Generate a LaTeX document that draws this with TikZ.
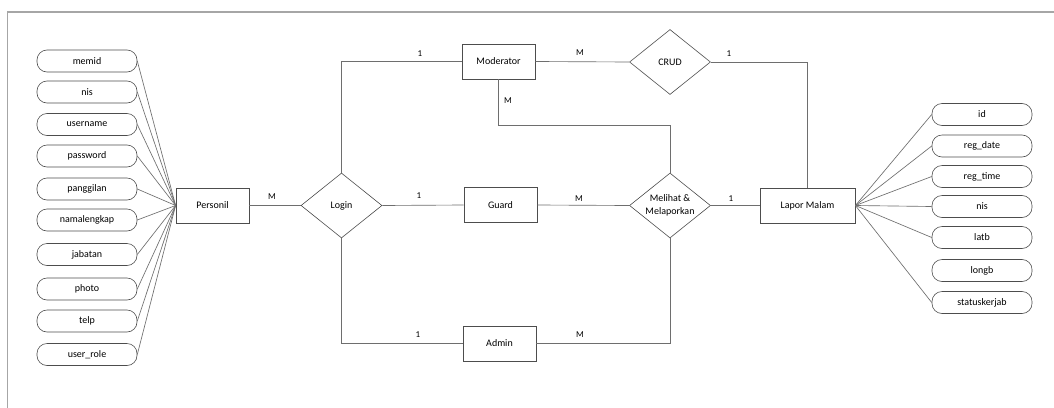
\documentclass[tikz,border=0pt]{standalone}
\usepackage{fontspec}
\setmainfont{Carlito}
\usetikzlibrary{shapes.geometric}
\definecolor{edgegray}{HTML}{4D4D4D}
\definecolor{linkgray}{HTML}{6E6E6E}
\definecolor{framegray}{HTML}{A6A6A6}
\begin{document}
\begin{tikzpicture}[x=1pt,y=-1pt,
  font=\fontsize{10}{12}\selectfont,
  entity/.style={draw=edgegray,line width=0.8pt,minimum width=73pt,minimum height=35pt,inner sep=0pt},
  relation/.style={diamond,draw=edgegray,line width=0.6pt,minimum width=81pt,minimum height=65pt,inner sep=0pt,aspect=1.25,align=center},
  attr/.style={draw=edgegray,line width=0.6pt,rounded corners=10pt,minimum width=100pt,minimum height=22pt,inner sep=0pt},
  link/.style={draw=linkgray,line width=0.65pt},
  card/.style={font=\fontsize{9}{10}\selectfont,inner sep=0pt}]
\useasboundingbox (0,0) rectangle (1054,407);
\fill[white] (0,0) rectangle (1054,407);
% outer frame (runs off the right and bottom)
\draw[framegray,line width=1.4pt] (7.5,420) -- (7.5,12) -- (1060,12);

% entities
\node[entity] (personil) at (212.5,205.5) {Personil};
\node[entity] (moderator) at (498.5,61.5) {Moderator};
\node[entity] (guard) at (500.5,205) {Guard};
\node[entity] (admin) at (499.5,343.5) {Admin};
\node[entity,minimum width=95pt] (lapor) at (807.5,205.5) {Lapor Malam};

% relationships
\node[relation] (login) at (341.5,205.5) {Login};
\node[relation] (crud) at (670,62) {CRUD};
\node[relation,font=\fontsize{10}{13}\selectfont] (melihat) at (670,205.5) {Melihat \&\\Melaporkan};

% attributes of Personil
\foreach \n/\t/\y in {p1/memid/61, p2/nis/92, p3/username/124.5, p4/password/156,
  p5/panggilan/189, p6/namalengkap/220, p7/jabatan/254.5, p8/photo/289,
  p9/telp/321, p10/user\_role/354.5}{
  \node[attr] (\n) at (87,\y) {\t};
  \draw[link] (\n.east) -- (personil.west);
}

% attributes of Lapor Malam
\foreach \n/\t/\y in {l1/id/114.5, l2/reg\_date/146, l3/reg\_time/176.5,
  l4/nis/206.5, l5/latb/237.5, l7/statuskerjab/302.5}{
  \node[attr] (\n) at (982,\y) {\t};
  \draw[link] (lapor.east) -- (\n.west);
}
\node[attr] (l6) at (982,270.5) {longb};

% relationship links
\draw[link] (personil.east) -- (login.west);
\draw[link] (login.north) |- (moderator.west);
\draw[link] (login.east) -- (guard.west);
\draw[link] (login.south) |- (admin.west);
\draw[link] (moderator.east) -- (crud.west);
\draw[link] (moderator.south) -- ++(0,46) coordinate (mbend) -| (melihat.north);
\draw[link] (guard.east) -- (melihat.west);
\draw[link] (admin.east) -| (melihat.south);
\draw[link] (crud.east) -| (lapor.north);
\draw[link] (melihat.east) -- (lapor.west);

% cardinalities
\node[card] (c1) at (272,197) {M};
\node[card] (c2) at (420,54) {1};
\node[card] (c3) at (419,196) {1};
\node[card] (c4) at (418,335) {1};
\node[card] (c5) at (580,53) {M};
\node[card] (c6) at (508,101) {M};
\node[card] (c7) at (579,199) {M};
\node[card] (c8) at (580,335) {M};
\node[card] (c9) at (729,54) {1};
\node[card] (c10) at (731,199) {1};
\end{tikzpicture}
\end{document}
